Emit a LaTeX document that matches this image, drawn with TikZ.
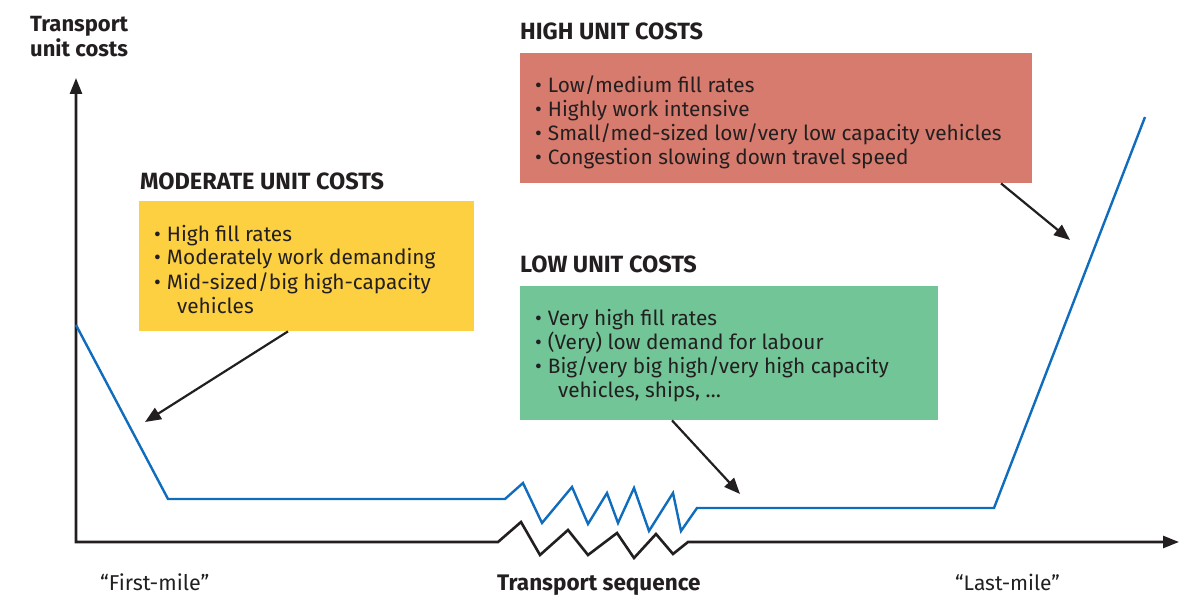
\documentclass[tikz,border=0pt]{standalone}
\usepackage{fontspec}
\setmainfont{Fira Sans}
\usetikzlibrary{arrows.meta}
\definecolor{txt}{RGB}{35, 31, 32}
\definecolor{curve}{RGB}{16, 108, 189}
\definecolor{modc}{RGB}{252, 208, 64}
\definecolor{highc}{RGB}{214, 123, 110}
\definecolor{lowc}{RGB}{113, 197, 151}
\newcommand{\itm}{\textbullet\hspace{6pt}}

\begin{document}
\begin{tikzpicture}[x=1pt, y=-1pt,
    every node/.style={text=txt, inner sep=0pt},
    costbox/.style={anchor=north west, draw=none},
    title/.style={anchor=base west, font=\fontsize{23.5}{26}\selectfont\bfseries},
    items/.style={anchor=base west, align=left, font=\fontsize{20.8}{24}\selectfont},
    pointer/.style={draw=txt, line width=2.2pt, -{Triangle[length=16pt, width=13pt]}}]
      \useasboundingbox (0,0) rectangle (1179,596);
      % axes with the break
      \coordinate (ytop) at (76,78);
      \coordinate (origin) at (76,542);
      \coordinate (xend) at (1179,542);
      \draw[txt, line width=2.6pt, {Triangle[length=16pt, width=12pt]}-{Triangle[length=16pt, width=12pt]}]
        (ytop) -- (origin) -- (498,542) -- (521,522) -- (540,555) -- (568,530) -- (588,555)
        -- (617,533) -- (634,558) -- (656,534) -- (673,554) -- (688,542) -- (xend);
      % cost curve
      \draw[curve, line width=2.4pt, line join=miter]
        (76,325) -- (168,499) -- (505,499) -- (523,483) -- (542,523) -- (572,487) -- (588,524)
        -- (607,493) -- (618,523) -- (634,488) -- (649,531) -- (673,493) -- (681,531)
        -- (697,508) -- (994,508) -- (1145,117);
      % boxes
      \node[costbox, fill=modc, minimum width=335pt, minimum height=130pt] (modbox) at (139,201) {};
      \node[costbox, fill=highc, minimum width=512pt, minimum height=130pt] (highbox) at (520,53) {};
      \node[costbox, fill=lowc, minimum width=418pt, minimum height=134pt] (lowbox) at (520,286) {};
      \node[title] (modtitle) at (140,190) {MODERATE UNIT COSTS};
      \node[title] (hightitle) at (520,40) {HIGH UNIT COSTS};
      \node[title] (lowtitle) at (520,273) {LOW UNIT COSTS};
      \node[items] (moditems) at (154,313) {\itm High fill rates\\
        \itm Moderately work demanding\\
        \itm Mid-sized/big high-capacity\\
        \hspace{23pt}vehicles};
      \node[items] (highitems) at (535,165) {\itm Low/medium fill rates\\
        \itm Highly work intensive\\
        \itm Small/med-sized low/very low capacity vehicles\\
        \itm Congestion slowing down travel speed};
      \node[items] (lowitems) at (535,397) {\itm Very high fill rates\\
        \itm (Very) low demand for labour\\
        \itm Big/very big high/very high capacity\\
        \hspace{23pt}vehicles, ships, \dots};
      % pointers
      \coordinate (modtip) at (145,422);
      \coordinate (lowtip) at (740,494);
      \coordinate (hightip) at (1070,240);
      \draw[pointer] (modbox.south west) ++(149,0) -- (modtip);
      \draw[pointer] (lowbox.south west) ++(152,0) -- (lowtip);
      \draw[pointer] (highbox.south west) ++(481,0) -- (hightip);
      % axis labels
      \node[anchor=base west, align=left, font=\fontsize{22}{25}\selectfont\bfseries] (ylabel) at (30,57) {Transport\\unit costs};
      \node[anchor=base west, font=\fontsize{21.5}{24}\selectfont] (first) at (100,590) {“First-mile”};
      \node[anchor=base west, font=\fontsize{22.5}{24}\selectfont\bfseries] (seq) at (497,590) {Transport sequence};
      \node[anchor=base west, font=\fontsize{21}{24}\selectfont] (last) at (955,590) {“Last-mile”};
    \end{tikzpicture}
\end{document}
